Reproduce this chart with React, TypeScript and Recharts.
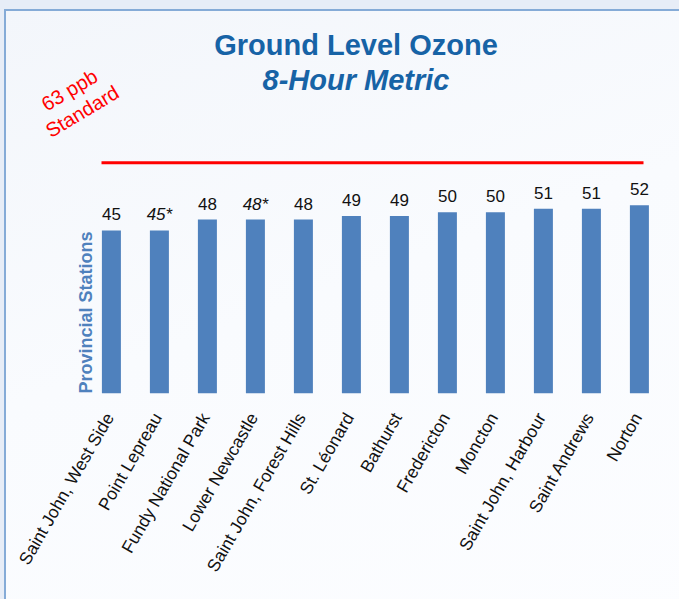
import React from "react";
import { BarChart, Bar, XAxis, YAxis, ReferenceLine, LabelList } from "recharts";

// Ground level ozone, 8-hour metric (ppb) by provincial station
const stations = [
  "Saint John, West Side",
  "Point Lepreau",
  "Fundy National Park",
  "Lower Newcastle",
  "Saint John, Forest Hills",
  "St. Léonard",
  "Bathurst",
  "Fredericton",
  "Moncton",
  "Saint John, Harbour",
  "Saint Andrews",
  "Norton",
];
const ozone = [45, 45, 48, 48, 48, 49, 49, 50, 50, 51, 51, 52];
// stations marked with * (shown in italics)
const flagged = [false, true, false, true, false, false, false, false, false, false, false, false];
const STANDARD = 63;

const data = stations.map((name, i) => ({ name, value: ozone[i], flagged: flagged[i] }));

const FONT = "'Liberation Sans', Arial, sans-serif";
const BAR_BLUE = "#4f81bd";
const TITLE_BLUE = "#1763a6";

const StationTick = (props: any) => {
  const { x, y, payload } = props;
  return (
    <g transform={`translate(${x + 3},${y + 16})`}>
      <text
        textAnchor="end"
        transform="rotate(-60)"
        fontSize={17.5}
        fontFamily={FONT}
        fill="#111"
      >
        {payload.value}
      </text>
    </g>
  );
};

const ValueLabel = (props: any) => {
  const { x, y, width, value, index } = props;
  const star = flagged[index];
  return (
    <text
      x={x + width / 2}
      y={y - 10}
      textAnchor="middle"
      fontSize={17}
      fontFamily={FONT}
      fontStyle={star ? "italic" : "normal"}
      fill="#111"
    >
      {star ? `${value}*` : value}
    </text>
  );
};

const StandardLine = (props: any) => {
  const { x1, x2, y1, y2 } = props;
  return <line x1={x1 - 10} x2={x2 + 4} y1={y1 - 2.5} y2={y2 - 2.5} stroke="#ff0000" strokeWidth={3} />;
};

export default function App() {
  return (
    <div
      style={{
        position: "absolute",
        left: 0,
        top: 0,
        width: 679,
        height: 599,
        overflow: "hidden",
        background: "#e7edf7",
      }}
    >
      <div
        style={{
          position: "absolute",
          left: 4,
          top: 9,
          width: 720,
          height: 620,
          borderLeft: "2px solid #85abd7",
          borderTop: "2px solid #85abd7",
          background: "linear-gradient(160deg, #f3f6fb 0%, #f9fbfe 45%, #fcfdff 100%)",
        }}
      />
      <div style={{ position: "absolute", left: 0, top: 0 }}>
        <BarChart
          width={679}
          height={599}
          data={data}
          margin={{ top: 140, right: 15.5, left: 87.5, bottom: 145.7 }}
          barCategoryGap="30%"
        >
          <YAxis hide domain={[0, 70]} />
          <XAxis
            dataKey="name"
            interval={0}
            axisLine={false}
            tickLine={false}
            height={60}
            tick={<StationTick />}
          />
          <ReferenceLine
            segment={[
              { x: stations[0], y: STANDARD },
              { x: stations[stations.length - 1], y: STANDARD },
            ]}
            shape={<StandardLine />}
          />
          <Bar dataKey="value" fill={BAR_BLUE} isAnimationActive={false}>
            <LabelList dataKey="value" content={<ValueLabel />} />
          </Bar>
        </BarChart>
      </div>
      <svg
        width={679}
        height={599}
        style={{ position: "absolute", left: 0, top: 0, pointerEvents: "none" }}
      >
        <text x={356} y={55} textAnchor="middle" fontSize={29} fontWeight="bold" fontFamily={FONT} fill={TITLE_BLUE}>
          Ground Level Ozone
        </text>
        <text
          x={356}
          y={90}
          textAnchor="middle"
          fontSize={29}
          fontWeight="bold"
          fontStyle="italic"
          fontFamily={FONT}
          fill={TITLE_BLUE}
        >
          8-Hour Metric
        </text>
        <text
          x={73}
          y={96}
          textAnchor="middle"
          fontSize={20}
          fontFamily={FONT}
          fill="#ff0000"
          transform="rotate(-31, 73, 96)"
        >
          <tspan x={73}>{STANDARD} ppb</tspan>
          <tspan x={73} dy={25}>Standard</tspan>
        </text>
        <text
          x={92}
          y={312.5}
          textAnchor="middle"
          fontSize={18}
          fontWeight="bold"
          fontFamily={FONT}
          fill={BAR_BLUE}
          transform="rotate(-90, 92, 312.5)"
        >
          Provincial Stations
        </text>
      </svg>
    </div>
  );
}
